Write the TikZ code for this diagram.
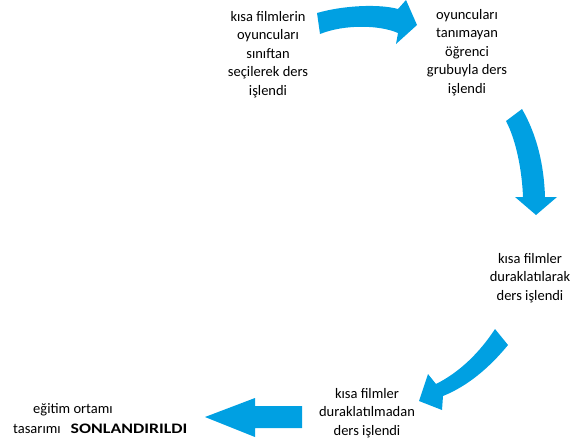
\documentclass[tikz,border=0pt]{standalone}
\usepackage{fontspec}
\setmainfont{Carlito}
\definecolor{arrowblue}{RGB}{0,160,226}
\tikzset{
  steptext/.style={font=\fontsize{14.5}{18.5}\selectfont, align=center, inner sep=0pt, anchor=north},
  blockarrow/.style={fill=arrowblue, draw=none}
}
\begin{document}
\begin{tikzpicture}[x=1pt,y=-1pt]
\useasboundingbox (0,0) rectangle (570,445);

% stage captions
\node[steptext] (s1) at (268,11) {kısa filmlerin\\oyuncuları\\sınıftan\\seçilerek ders\\işlendi};
\node[steptext] (s2) at (467,9) {oyuncuları\\tanımayan\\öğrenci\\grubuyla ders\\işlendi};
\node[steptext] (s3) at (530,253) {kısa filmler\\duraklatılarak\\ders işlendi};
\node[steptext] (s4) at (367,388) {kısa filmler\\duraklatılmadan\\ders işlendi};
\node[font=\fontsize{14.5}{18.5}\selectfont, inner sep=0pt, anchor=base] (e1) at (73,413) {eğitim ortamı};
\node[font=\fontsize{14.5}{18.5}\selectfont, inner sep=0pt, anchor=base west] (e2) at (13,433)
  {tasarımı\hspace{10pt}\scalebox{1.23}[1]{\textbf{SONLANDIRILDI}}};

% curved block arrows between the stages
\fill[blockarrow] (317,13) .. controls (345,5) and (380,4) .. (398,9)
  -- (406,0) -- (417,25) -- (396,44) -- (398,33)
  .. controls (380,25) and (345,24) .. (320,34) -- cycle;

\fill[blockarrow] (522,109) .. controls (537,135) and (544,165) .. (545,197)
  -- (557,197) -- (536,215) -- (515,197) -- (523,197)
  .. controls (522,170) and (516,140) .. (506,121) -- cycle;

\fill[blockarrow] (495,329) .. controls (480,352) and (460,372) .. (436,384)
  -- (428,374) -- (419,401) -- (442,410) -- (443,396)
  .. controls (468,386) and (490,367) .. (508,345) -- cycle;

\fill[blockarrow] (302,406) -- (255,406) -- (255,398) -- (205,417)
  -- (255,437) -- (255,428) -- (302,428) -- cycle;
\end{tikzpicture}
\end{document}
